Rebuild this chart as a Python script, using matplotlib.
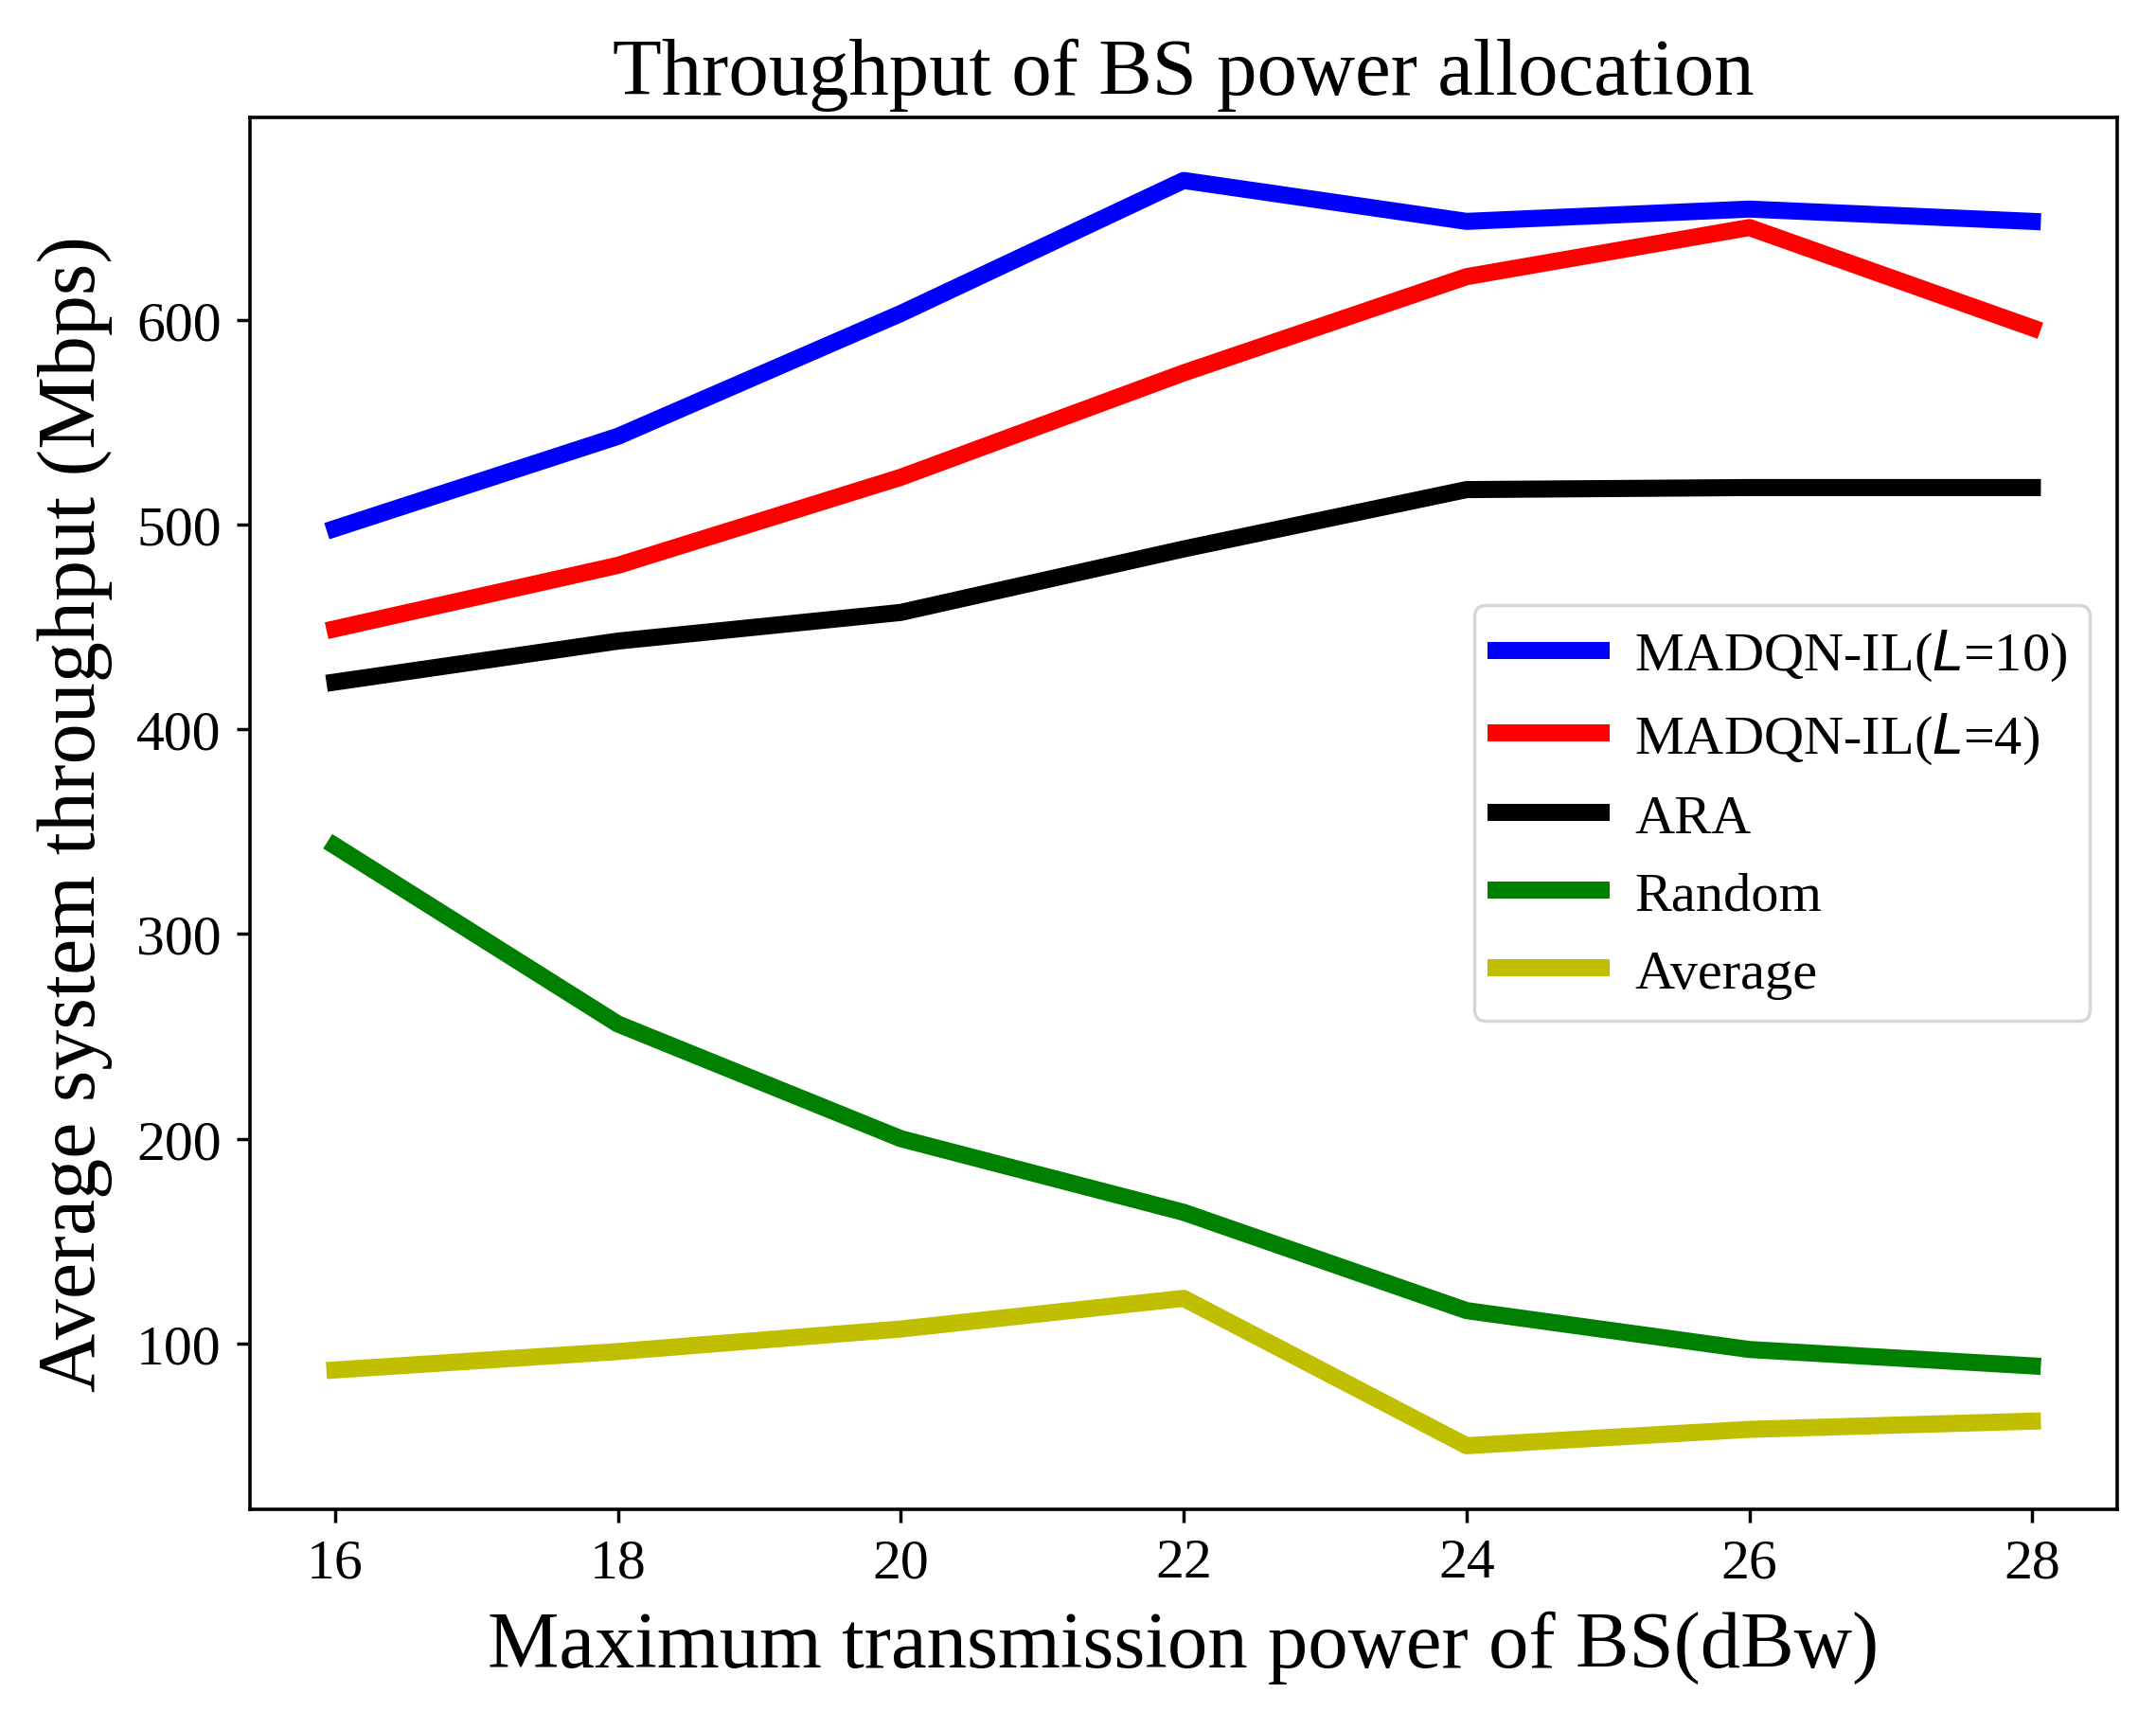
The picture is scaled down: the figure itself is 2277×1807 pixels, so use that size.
import matplotlib
matplotlib.use("Agg")
import matplotlib.pyplot as plt

power = [16, 18, 20, 22, 24, 26, 28]
madqn_l10 = [498, 543, 603, 668, 648, 654, 648]
madqn_l4 = [449, 480, 523, 574, 621, 645, 596]
ara = [423, 443, 457, 488, 517, 518, 518]
random_alloc = [343, 256, 200, 164, 116, 97, 89]
average_alloc = [87, 96, 107, 122, 50, 58, 62]

labels = ["MADQN-IL($L$=10)", "MADQN-IL($L$=4)", "ARA", "Random", "Average"]
colors = ["b", "r", "k", "g", "y"]

plt.rcParams["font.family"] = ["Liberation Serif", "DejaVu Serif"]
plt.rcParams["mathtext.fontset"] = "dejavusans"

fig = plt.figure(figsize=(22.77, 18.08), dpi=100)
ax = fig.add_axes([0.116, 0.118, 0.866, 0.813])

series = [madqn_l10, madqn_l4, ara, random_alloc, average_alloc]
for vals, lab, col in zip(series, labels, colors):
    ax.plot(power, vals, color=col, linewidth=13, label=lab)

ax.set_xticks(power)
ax.set_yticks([100, 200, 300, 400, 500, 600])
ax.tick_params(axis="both", labelsize=43, length=10, width=2.5, pad=12)
for s in ax.spines.values():
    s.set_linewidth(2.6)

ax.set_title("Throughput of BS power allocation", fontsize=61, pad=18)
ax.set_xlabel("Maximum transmission power of BS(dBw)", fontsize=61, labelpad=16)
ax.set_ylabel("Average system throughput (Mbps)", fontsize=62, labelpad=18)

leg = ax.legend(loc="center right", fontsize=42, handlelength=1.9,
                handletextpad=0.6, labelspacing=0.5, borderpad=0.4,
                framealpha=0.8)
leg.get_frame().set_linewidth(2.5)
for h in leg.get_lines():
    h.set_linewidth(13)

fig.savefig("out.png", dpi=100)
